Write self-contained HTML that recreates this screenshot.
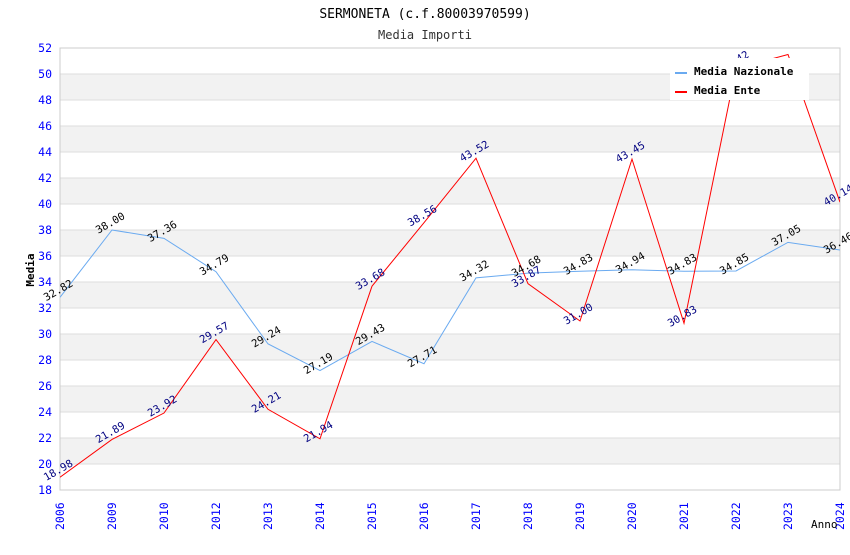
<!DOCTYPE html>
<html><head><meta charset="utf-8"><style>
body{margin:0;background:#fff;width:850px;height:550px;overflow:hidden}
text{font-family:"DejaVu Sans Mono","Liberation Mono",monospace}
</style></head><body>
<svg id="c" width="850" height="550" xmlns="http://www.w3.org/2000/svg">
<defs><clipPath id="pc"><rect x="60" y="48" width="780" height="442"/></clipPath></defs>
<text x="425" y="18" text-anchor="middle" font-size="13" fill="#000">SERMONETA (c.f.80003970599)</text>
<text x="425" y="39" text-anchor="middle" font-size="12" fill="#333">Media Importi</text>
<g id="grid"></g><g id="axes"></g><g id="series" clip-path="url(#pc)"></g><g id="labels"></g>
<text x="34" y="270" transform="rotate(-90 34 270)" text-anchor="middle" font-size="11" font-weight="bold">Media</text>
<text x="811" y="528" font-size="11">Anno</text>
<g>
<rect x="670" y="58" width="139" height="42" fill="#fff"/>
<line x1="675" y1="73" x2="687" y2="73" stroke="#6aaaf0" stroke-width="2"/>
<text x="694" y="75" font-size="11" font-weight="bold">Media Nazionale</text>
<line x1="675" y1="92" x2="687" y2="92" stroke="#f00" stroke-width="2"/>
<text x="694" y="94" font-size="11" font-weight="bold">Media Ente</text>
</g>
</svg>
<script>
const years=["2006","2009","2010","2012","2013","2014","2015","2016","2017","2018","2019","2020","2021","2022","2023","2024"];
const nazionale=[32.82,38.00,37.36,34.79,29.24,27.19,29.43,27.71,34.32,34.68,34.83,34.94,34.83,34.85,37.05,36.46];
const ente=[18.98,21.89,23.92,29.57,24.21,21.94,33.68,38.56,43.52,33.87,31.00,43.45,30.83,50.42,51.50,40.14];
const yTicks=[18,20,22,24,26,28,30,32,34,36,38,40,42,44,46,48,50,52];
const NS="http://www.w3.org/2000/svg";
const X0=60,X1=840,Y0=490,Y1=48,ymin=18,ymax=52;
const xs=i=>X0+i*(X1-X0)/(years.length-1);
const ys=v=>Y0-(v-ymin)*(Y0-Y1)/(ymax-ymin);
function mk(tag,attrs,parent){const e=document.createElementNS(NS,tag);for(const k in attrs)e.setAttribute(k,attrs[k]);parent.appendChild(e);return e;}
const g=document.getElementById('grid'),ax=document.getElementById('axes'),se=document.getElementById('series'),lb=document.getElementById('labels');
for(let i=0;i<yTicks.length-1;i++){
  const a=yTicks[i],b=yTicks[i+1];
  if(i%2===1){const r=mk('rect',{x:X0,y:ys(b),width:X1-X0,height:ys(a)-ys(b),fill:'#f2f2f2'},g);
  
  }
}
yTicks.forEach(t=>{
  const l=mk('line',{x1:X0,x2:X1,y1:ys(t),y2:ys(t),stroke:'#ddd'},g);
  
  
  const tx=mk('text',{x:52,y:ys(t)+4,'text-anchor':'end','font-size':11.5,fill:'#0000ff'},ax);
  tx.textContent=t;
  
  
});
mk('rect',{x:X0,y:Y1,width:X1-X0,height:Y0-Y1,fill:'none',stroke:'#ccc'},ax);
years.forEach((y,i)=>{
  const x=xs(i);
  const t=mk('text',{x:x+4,y:530,transform:`rotate(-90 ${x+4} 530)`,'font-size':11.5,fill:'#0000ff'},ax);
  t.textContent=y;
  
  
});
function line(vals,color,name){
  const p=mk('polyline',{points:vals.map((v,i)=>xs(i)+','+ys(v)).join(' '),fill:'none',stroke:color,'stroke-width':1},se);
  
  
}
line(nazionale,'#6aaaf0','line-media-nazionale');
line(ente,'#ff0000','line-media-ente');
function labels(vals,color,name){
  vals.forEach((v,i)=>{
    const x=xs(i),y=ys(v)-4;
    if(y<Y1+6)return;
    const t=mk('text',{x:x,y:y,transform:`rotate(-30 ${x} ${y})`,'text-anchor':'middle','font-size':10.5,fill:color},lb);
    t.textContent=v.toFixed(2);
    
    
  });
}
labels(nazionale,'#000','label-nazionale');
labels(ente,'#000080','label-ente');
</script>
</body></html>
